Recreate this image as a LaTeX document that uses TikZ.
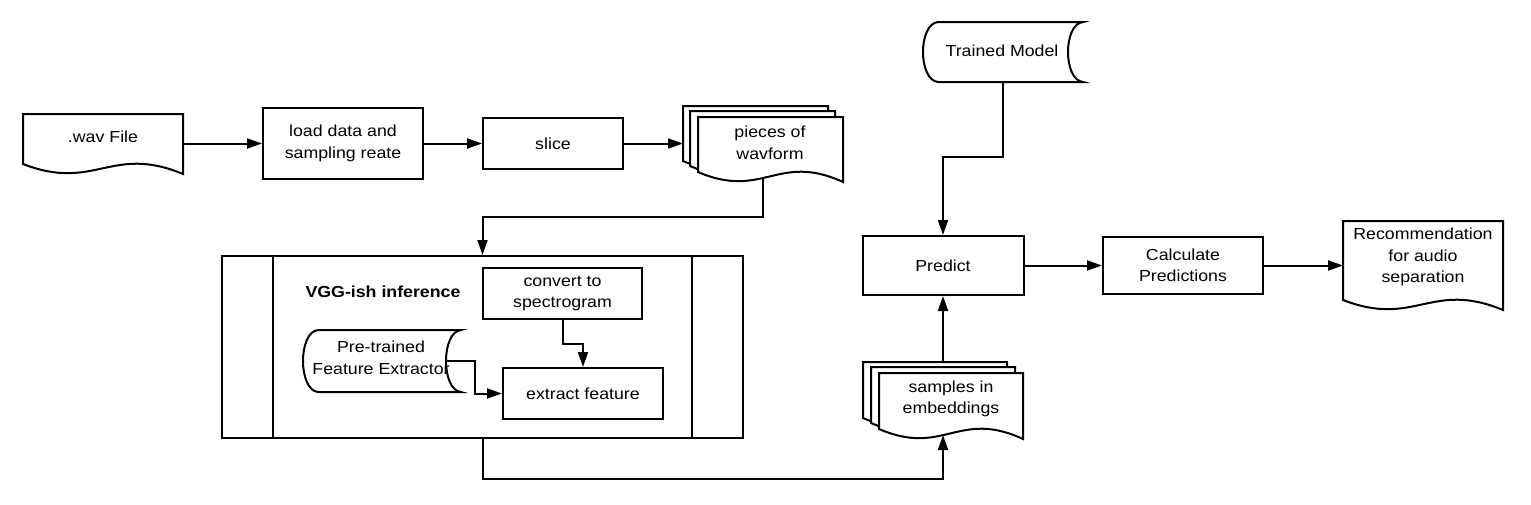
\documentclass[tikz,border=0pt]{standalone}
\usepackage{fontspec}
\setmainfont{Liberation Sans}[FakeStretch=1.11]
\usetikzlibrary{arrows.meta,calc}
\newcommand\dlbl{\fontsize{16}{21.5}\selectfont}
\newcommand\docpath[4]{%
  \pgfmathsetmacro\dW{#3-#1}%
  \draw[shapeln] (#1,#2) -- (#3,#2) -- (#3,#4) .. controls ({#1+0.55*\dW},{#4-30}) and ({#1+0.45*\dW},{#4+18}) .. (#1,{#4-10}) -- cycle;}
\newcommand\cylpath[4]{%
  \draw[shapeln] ({#1+16},#2) -- (#3,#2) .. controls ({#3-20},{#2+2}) and ({#3-20},{#4-2}) .. (#3,#4) -- ({#1+16},#4) .. controls ({#1-4},{#4-2}) and ({#1-4},{#2+2}) .. cycle;}
\begin{document}
\begin{tikzpicture}[x=1pt,y=-1pt,line width=2pt,
  shapeln/.style={draw=black,fill=white,line width=2pt},
  box/.style={draw,rectangle,inner sep=0pt,align=center,font=\dlbl,line width=2pt},
  txt/.style={inner sep=0pt,align=center,font=\dlbl},
  arr/.style={-{Triangle[length=15pt,width=10pt]}}]
\useasboundingbox[fill=white] (0,0) rectangle (1531,504);
% rectangle nodes
\node[box,minimum width=160pt,minimum height=71pt] (load) at (343,143.5) {load data and\\sampling reate};
\node[box,minimum width=140pt,minimum height=51pt] (slice) at (553,143.5) {slice};
\node[box,minimum width=521pt,minimum height=182pt] (vgg) at (482.5,347) {};
\draw ([xshift=52pt]vgg.north west) -- ([xshift=52pt]vgg.south west);
\draw ([xshift=-52pt]vgg.north east) -- ([xshift=-52pt]vgg.south east);
\node[txt,font=\dlbl\bfseries] (vggt) at (383,292) {VGG-ish inference};
\node[box,minimum width=159pt,minimum height=51pt] (convert) at (562.5,293.5) {convert to\\spectrogram};
\node[box,minimum width=160pt,minimum height=51pt] (extract) at (583,393.5) {extract feature};
\node[box,minimum width=161pt,minimum height=59pt] (predict) at (943,265.5) {Predict};
\node[box,minimum width=160pt,minimum height=57pt] (calc) at (1183,265.5) {Calculate\\Predictions};
% coordinates on drawn shapes
\coordinate (wavE) at (183,143.5);
\coordinate (piecesW) at (683,143.5);
\coordinate (piecesB) at (763,178);
\coordinate (samplesT) at (943,362);
\coordinate (samplesB) at (943,435);
\coordinate (tmB) at (1003,82);
\coordinate (recW) at (1343,265.5);
\coordinate (ptOut) at (447,361);
% connectors
\draw[arr] (wavE) -- (load.west);
\draw[arr] (load.east) -- (slice.west);
\draw[arr] (slice.east) -- (piecesW);
\draw[arr] (piecesB) -- ++(0,39) -| (vgg.north);
\draw[arr] (vgg.south) -- ++(0,40) -| (samplesB);
\draw[arr] (tmB) -- ++(0,75) -| (predict.north);
\draw[arr] (samplesT) -- (predict.south);
\draw[arr] (predict.east) -- (calc.west);
\draw[arr] (calc.east) -- (recW);
\draw[arr] (convert.south) -- ++(0,24) -| (extract.north);
% document shapes
\docpath{23}{114}{183}{174}
\node[txt] (wav) at (103,137) {.wav File};
\docpath{683}{106}{828}{171}
\docpath{690}{111}{835}{176}
\docpath{698}{117}{843}{182}
\node[txt] (pieces) at (770,143) {pieces of\\wavform};
\docpath{863}{362}{1007}{428}
\docpath{871}{367}{1015}{433}
\docpath{879}{373}{1023}{439}
\node[txt] (samples) at (951,399) {samples in\\embeddings};
\docpath{1343}{221}{1503}{310}
\node[txt] (rec) at (1423,257) {Recommendation\\for audio\\separation};
% cylinders
\cylpath{922}{22}{1083}{82}
\node[txt] (tm) at (1002,51) {Trained Model};
\cylpath{302}{330}{461}{392}
\node[txt] (pt) at (381,358) {Pre-trained\\Feature Extractor};
\draw[arr] (ptOut) -- ++(28,0) |- (extract.west);
\end{tikzpicture}
\end{document}
